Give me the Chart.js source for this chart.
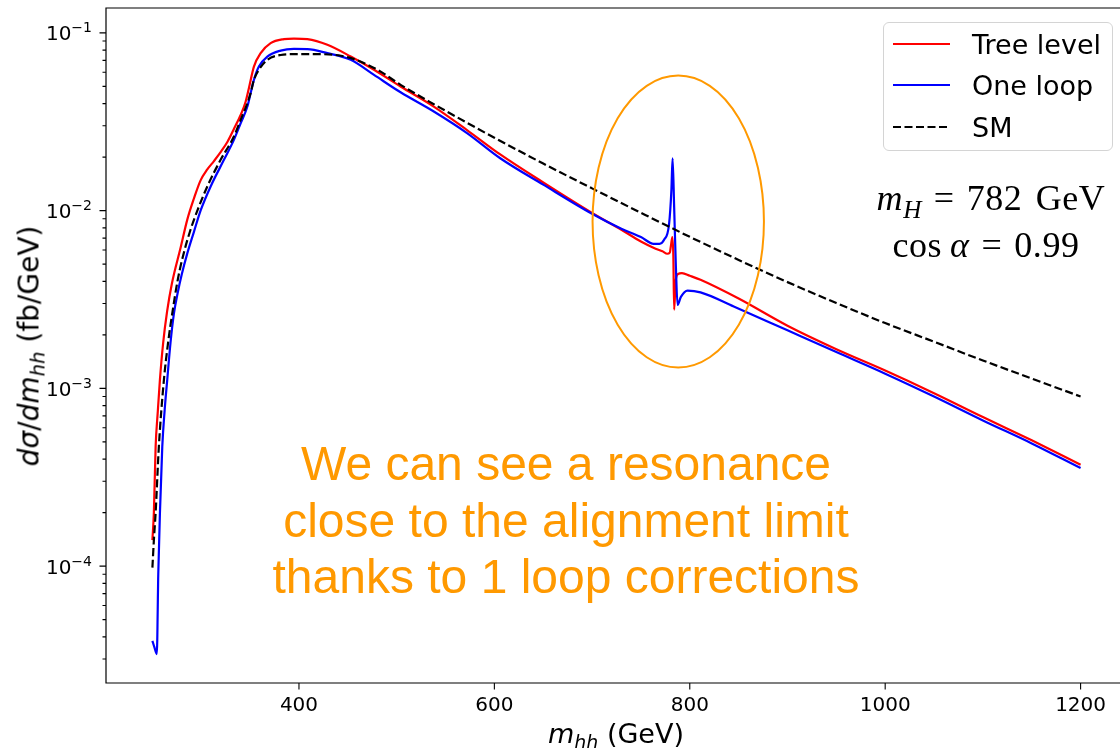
<!DOCTYPE html>
<html><head><meta charset="utf-8">
<script src="https://cdn.jsdelivr.net/npm/chart.js@4.4.1/dist/chart.umd.min.js"></script>
<style>
html,body{margin:0;padding:0;background:#fff;overflow:hidden;}
#wrap{position:relative;width:1120px;height:748px;overflow:hidden;background:#fff;}
#c{position:absolute;left:0;top:0;}
.ov{position:absolute;white-space:nowrap;line-height:1;}
.sub{font-size:70%;position:relative;top:0.3em;}
#xt{left:616px;top:733px;transform:translate(-50%,-50%);font:27px 'DejaVu Sans';color:#000;}
#yt{left:29px;top:346px;transform:translate(-50%,-50%) rotate(-90deg);font:28px 'DejaVu Sans';color:#000;}
#legend{left:883px;top:22px;width:228px;height:127px;border:1px solid #d4d4d4;border-radius:6px;background:rgba(255,255,255,0.8);}
.li{position:absolute;left:88px;font:27px 'DejaVu Sans';color:#000;transform:translateY(-50%);}
#legend svg{position:absolute;left:0;top:0;}
.math{font-family:'Liberation Serif','DejaVu Serif',serif;font-size:36px;letter-spacing:0.6px;color:#000;transform:translate(-50%,-50%);}
.eq{margin:0 0.33em;}
#orange{left:566px;top:436px;transform:translateX(-50%);font:48px 'Liberation Sans',Arial,sans-serif;line-height:56.5px;color:#FF9900;text-align:center;}
</style></head><body>
<div id="wrap">
<canvas id="c" width="1130" height="748"></canvas>
<div class="ov" id="xt"><i>m</i><span class="sub"><i>hh</i></span> (GeV)</div>
<div class="ov" id="yt"><i>dσ</i>/<i>dm</i><span class="sub"><i>hh</i></span> (fb/GeV)</div>
<div class="ov" id="legend">
<svg width="228" height="127">
<line x1="9" x2="66" y1="21" y2="21" stroke="#FF0000" stroke-width="2.2"/>
<line x1="9" x2="66" y1="62" y2="62" stroke="#0000FF" stroke-width="2.2"/>
<line x1="9" x2="66" y1="104" y2="104" stroke="#000" stroke-width="2.2" stroke-dasharray="8,3.5"/>
</svg>
<div class="li" style="top:21px">Tree level</div>
<div class="li" style="top:62px">One loop</div>
<div class="li" style="top:104px">SM</div>
</div>
<div class="ov math" style="left:991px;top:198px;"><i>m</i><span class="sub"><i>H</i></span><span class="eq">=</span>782&#8202; GeV</div>
<div class="ov math" style="left:986px;top:245px;">cos&#8201;<i>α</i><span class="eq">=</span>0.99</div>
<div class="ov" id="orange">We can see a resonance<br>close to the alignment limit<br>thanks to 1 loop corrections</div>
</div>
<script>
// ---- data ----
const mTree = [250,251.5,253.3,255.5,257.7,261,265,270,278.9,285.7,292.5,299.3,306,313,320,327,333.4,340.3,345.4,348.8,353.9,360.8,371,384.6,394.9,408.6,429.1,453,476.8,504,538,572,606,650,700,730,750,765,772,777,779.5,780.8,782.2,783.2,784,785.5,788,792,800,811,850,900,950,1000,1050,1100,1150,1200];
const tree = [1.4e-4,2.0e-4,4.7e-4,7.4e-4,1.12e-3,1.8e-3,2.7e-3,3.9e-3,6.2e-3,8.9e-3,0.0117,0.0148,0.0170,0.0190,0.0214,0.0245,0.0288,0.0345,0.041,0.049,0.0646,0.0769,0.0875,0.0922,0.0929,0.0922,0.0857,0.0736,0.062,0.0499,0.0385,0.0284,0.0207,0.0144,0.0097,7.8e-3,6.7e-3,6.1e-3,5.9e-3,5.72e-3,5.8e-3,6.4e-3,7.1e-3,5.5e-3,2.77e-3,4.0e-3,4.4e-3,4.45e-3,4.3e-3,4.08e-3,3.2e-3,2.25e-3,1.66e-3,1.26e-3,9.4e-4,6.9e-4,5.1e-4,3.72e-4];

const mLoop = [250,252,254.5,256,257.7,260.1,262.5,265.2,268.5,272,276,280,285.7,292.5,299.3,309.6,323.2,333.4,340.3,347.2,350.5,353.9,359,367.6,381.3,394.9,408.6,429.1,453,476.8,504,538,572,606,650,700,730,750,763,769,773.7,778.8,781.2,782.4,784,785.8,787.5,790.9,797.7,811,845,900,950,1000,1050,1100,1150,1200];
const loop = [3.8e-5,3.5e-5,3.2e-5,9e-5,2.0e-4,4.7e-4,7.5e-4,1.12e-3,1.8e-3,2.63e-3,3.47e-3,4.37e-3,5.75e-3,7.6e-3,0.0100,0.01368,0.0193,0.025,0.031,0.0385,0.0458,0.0544,0.0646,0.0736,0.0795,0.0812,0.081,0.0769,0.0705,0.058,0.0463,0.0361,0.0273,0.0197,0.0140,9.6e-3,7.9e-3,7.1e-3,6.5e-3,6.5e-3,6.85e-3,8.4e-3,0.0131,0.0197,0.0105,4.8e-3,2.95e-3,3.27e-3,3.55e-3,3.47e-3,2.89e-3,2.12e-3,1.6e-3,1.21e-3,9.0e-4,6.6e-4,4.9e-4,3.56e-4];

const mSM = [250,251.5,253.3,256.6,261.8,266,270.4,276,282.2,289,296,306.2,319.8,333.4,340.3,347.2,350.5,353.9,359,367.6,381.3,394.9,418.8,449.6,480.3,504,538,572,600,650,700,750,800,850,900,950,1000,1050,1100,1150,1200];
const sm = [9.8e-5,1.4e-4,2.0e-4,4.7e-4,1.12e-3,1.8e-3,2.66e-3,4.1e-3,5.8e-3,7.8e-3,0.0100,0.01368,0.0193,0.0261,0.0324,0.0402,0.0458,0.0544,0.062,0.0705,0.0751,0.0759,0.0759,0.073,0.062,0.051,0.0397,0.0312,0.0257,0.0184,0.01334,9.72e-3,7.12e-3,5.28e-3,3.96e-3,3.02e-3,2.33e-3,1.83e-3,1.435e-3,1.135e-3,9.0e-4];

const xTicks = [400,600,800,1000,1200];
const yMajor = [1e-4,1e-3,1e-2,1e-1];
const yMajorExp = ['−4','−3','−2','−1'];
const xRange = [202.5,1247.5];
const yRange = [2.2e-5,0.138];
// highlight ellipse bounds in data units (m, value)
const ellipseM = [700.5,875.9];
const ellipseV = [1.31e-3,0.0575];

const toPts = (xs, ys) => xs.map((v,i)=>({x:v,y:ys[i]}));
const yMinor = [];
for (let d=-5; d<=-1; d++) for (let k=2;k<=9;k++){const v=k*Math.pow(10,d); if(v>=yRange[0]&&v<=yRange[1]) yMinor.push(v);}

const framePlugin = {
  id:'frame',
  afterDraw(chart){
    const {ctx, chartArea:a, scales:{x,y}} = chart;
    ctx.save();
    ctx.strokeStyle='#000'; ctx.lineWidth=1.2;
    ctx.beginPath();
    ctx.moveTo(a.left,a.top); ctx.lineTo(a.right,a.top); ctx.lineTo(a.right,a.bottom);
    ctx.lineTo(a.left,a.bottom); ctx.closePath();
    ctx.stroke();
    ctx.lineWidth=1.1;
    ctx.beginPath();
    for(const v of yMajor){const p=y.getPixelForValue(v); ctx.moveTo(a.left,p); ctx.lineTo(a.left-6.5,p);}
    for(const v of yMinor){const p=y.getPixelForValue(v); ctx.moveTo(a.left,p); ctx.lineTo(a.left-3.5,p);}
    for(const v of xTicks){const p=x.getPixelForValue(v); ctx.moveTo(p,a.bottom); ctx.lineTo(p,a.bottom+6.5);}
    ctx.stroke();
    // y tick labels: 10 with superscript exponent
    ctx.fillStyle='#000'; ctx.textBaseline='alphabetic'; ctx.textAlign='left';
    yMajor.forEach((v,i)=>{
      const p=y.getPixelForValue(v);
      ctx.font='14px "DejaVu Sans"';
      const ws=ctx.measureText(yMajorExp[i]).width;
      ctx.font='20px "DejaVu Sans"';
      const wb=ctx.measureText('10').width;
      const xr=a.left-14;
      ctx.fillText('10', xr-ws-wb, p+7.5);
      ctx.font='14px "DejaVu Sans"';
      ctx.fillText(yMajorExp[i], xr-ws, p-0.5);
    });
    // highlight ellipse
    const x0=x.getPixelForValue(ellipseM[0]), x1=x.getPixelForValue(ellipseM[1]);
    const y0=y.getPixelForValue(ellipseV[1]), y1=y.getPixelForValue(ellipseV[0]);
    ctx.strokeStyle='#FF9900'; ctx.lineWidth=2;
    ctx.beginPath();
    ctx.ellipse((x0+x1)/2,(y0+y1)/2,(x1-x0)/2,(y1-y0)/2,0,0,Math.PI*2);
    ctx.stroke();
    ctx.restore();
  }
};

new Chart(document.getElementById('c'), {
  type:'line',
  data:{datasets:[
    {label:'Tree level', data:toPts(mTree,tree), borderColor:'#FF0000', borderWidth:2.2, order:3},
    {label:'One loop', data:toPts(mLoop,loop), borderColor:'#0000FF', borderWidth:2.2, order:2},
    {label:'SM', data:toPts(mSM,sm), borderColor:'#000000', borderWidth:2.2, borderDash:[8,3.5], order:1}
  ]},
  options:{
    responsive:false, animation:false, devicePixelRatio:1,
    layout:{padding:{left:0,top:8,right:3,bottom:0}},
    elements:{point:{radius:0}, line:{cubicInterpolationMode:'monotone', fill:false}},
    plugins:{legend:{display:false}, tooltip:{enabled:false}},
    scales:{
      x:{type:'linear', min:xRange[0], max:xRange[1], position:'bottom',
        grid:{display:false, drawTicks:false}, border:{display:false},
        ticks:{font:{family:'DejaVu Sans', size:20}, color:'#000', padding:11, autoSkip:false, maxRotation:0,
          callback(v){ return String(v); }},
        afterBuildTicks(s){ s.ticks = xTicks.map(v=>({value:v})); },
        afterFit(s){ s.height = 65; s.paddingLeft = 0; s.paddingRight = 0; }
      },
      y:{type:'logarithmic', min:yRange[0], max:yRange[1], position:'left',
        grid:{display:false, drawTicks:false}, border:{display:false},
        ticks:{display:false},
        afterBuildTicks(s){ s.ticks = yMajor.concat(yMinor).sort((a,b)=>a-b).map(v=>({value:v})); },
        afterFit(s){ s.width = 106; s.paddingTop = 0; s.paddingBottom = 0; }
      }
    }
  },
  plugins:[framePlugin]
});
</script>
</body></html>
